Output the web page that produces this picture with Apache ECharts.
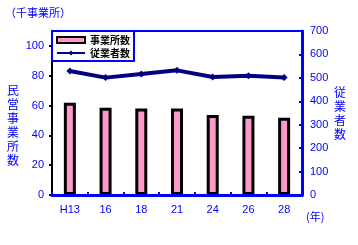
<!DOCTYPE html>
<html><head><meta charset="utf-8">
<script src="https://cdn.jsdelivr.net/npm/echarts@6/dist/echarts.min.js"></script>
<style>html,body{margin:0;padding:0;background:#fff}#c{width:358px;height:245px}</style>
</head><body><div id="c"></div>
<script>
const categories = ['H13','16','18','21','24','26','28'];
const establishments = [61.8, 58.6, 58.0, 58.0, 53.7, 53.1, 51.8];
const employees = [529, 501, 516, 532, 504, 509, 502];
const leftTicks = [0,20,40,60,80,100];
const rightTicks = [0,100,200,300,400,500,600,700];

const blue = '#0000FF';
const chart = echarts.init(document.getElementById('c'));
chart.setOption({
  animation:false,
  grid:{left:52,right:56,top:31,bottom:50,show:true,borderColor:blue,borderWidth:2},
  legend:{
    left:52, top:31, orient:'vertical', itemGap:3, padding:[4,4,3,4],
    borderColor:blue, borderWidth:2, backgroundColor:'#fff',
    itemWidth:28, itemHeight:6,
    textStyle:{color:'#000',fontSize:10,fontWeight:'bold',fontFamily:'Noto Sans CJK JP'},
    data:[{name:'事業所数',icon:'rect'},{name:'従業者数'}]
  },
  xAxis:{type:'category',data:categories,
    axisLine:{lineStyle:{color:blue,width:3}},
    axisTick:{show:true,inside:true,length:3,lineStyle:{color:blue,width:2}},
    axisLabel:{color:blue,fontSize:11,margin:9,fontFamily:'Liberation Sans'},
    z:10
  },
  yAxis:[
    {type:'value',min:0,max:110,interval:20,position:'left',
     axisLine:{show:true,lineStyle:{color:'#000',width:2}},
     axisTick:{show:true,length:3,lineStyle:{color:'#000',width:2}},
     axisLabel:{color:blue,fontSize:11,showMaxLabel:false,fontFamily:'Liberation Sans',margin:8,
       formatter:v=>leftTicks.includes(v)?String(v):''},
     splitLine:{show:false}},
    {type:'value',min:0,max:700,interval:100,position:'right',
     axisLine:{show:true,lineStyle:{color:blue,width:3}},
     axisTick:{show:true,inside:true,length:3,lineStyle:{color:blue,width:2}},
     axisLabel:{color:blue,fontSize:11,fontFamily:'Liberation Sans',margin:8,
       formatter:v=>rightTicks.includes(v)?String(v):''},
     splitLine:{show:false}}
  ],
  series:[
    {name:'事業所数',type:'bar',yAxisIndex:0,data:establishments,barWidth:12,
     itemStyle:{color:'#FF99CC',borderColor:'#000',borderWidth:3}},
    {name:'従業者数',type:'line',yAxisIndex:1,data:employees,
     lineStyle:{color:'#000080',width:4},itemStyle:{color:'#000080'},
     symbol:'diamond',symbolSize:7,z:5}
  ],
  graphic:[
    {type:'text',left:5,top:7,style:{text:'（千事業所）',fill:blue,fontSize:11,fontFamily:'Noto Sans CJK JP'}},
    {type:'text',left:7,top:83,style:{text:'民\n営\n事\n業\n所\n数',fill:blue,fontSize:12,lineHeight:14,fontFamily:'Noto Sans CJK JP'}},
    {type:'text',left:334,top:85,style:{text:'従\n業\n者\n数',fill:blue,fontSize:12,lineHeight:14,fontFamily:'Noto Sans CJK JP'}},
    {type:'text',left:306,top:211,style:{text:'(年)',fill:blue,fontSize:11,fontFamily:'Noto Sans CJK JP'}}
  ]
});
</script></body></html>
